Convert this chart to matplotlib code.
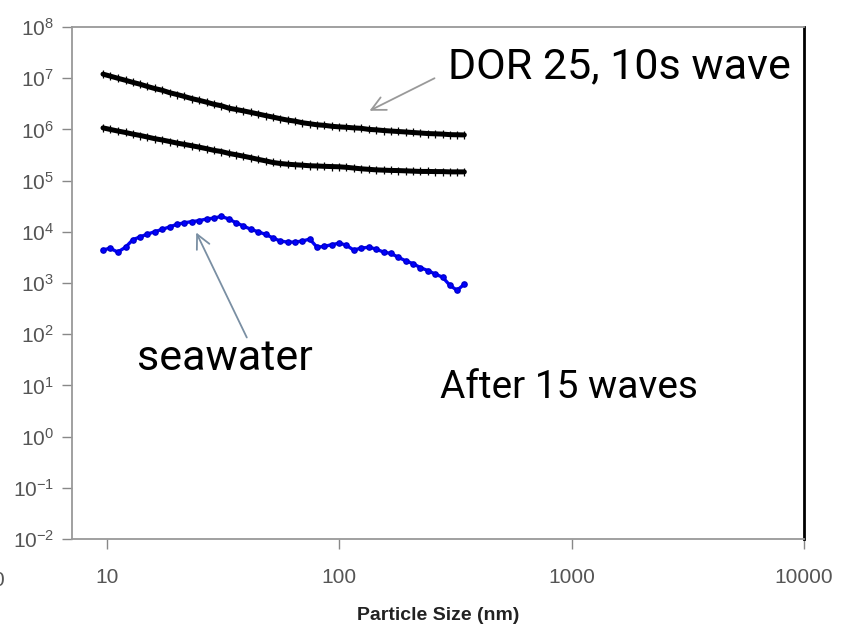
import matplotlib
matplotlib.use("Agg")
import matplotlib.pyplot as plt
from matplotlib.patches import FancyArrowPatch
from matplotlib.ticker import NullLocator, FixedLocator, FixedFormatter

# ---- data ----
size_nm = [9.6, 10.3, 11.1, 12.0, 12.9, 13.9, 14.9, 16.0, 17.3, 18.6,
           20.0, 21.5, 23.1, 24.9, 26.8, 28.8, 31.0, 33.4, 35.9, 38.6,
           41.5, 44.7, 48.1, 51.7, 55.6, 59.8, 64.4, 69.2, 74.5, 80.1,
           86.2, 92.7, 99.7, 107, 115, 124, 134, 144, 155, 166,
           179, 193, 207, 223, 240, 258, 278, 299, 321, 345]

dor_upper = [1.2e7, 1.10e7, 1.0e7, 9.1e6, 8.3e6, 7.6e6, 6.9e6, 6.3e6, 5.8e6, 5.2e6,
             4.8e6, 4.4e6, 4.0e6, 3.7e6, 3.4e6, 3.1e6, 2.9e6, 2.6e6, 2.45e6, 2.3e6,
             2.15e6, 2.0e6, 1.86e6, 1.74e6, 1.62e6, 1.52e6, 1.45e6, 1.35e6, 1.29e6, 1.23e6,
             1.2e6, 1.15e6, 1.12e6, 1.1e6, 1.07e6, 1.05e6, 1.0e6, 9.8e5, 9.5e5, 9.3e5,
             9.1e5, 8.9e5, 8.7e5, 8.5e5, 8.3e5, 8.2e5, 8.1e5, 7.9e5, 7.85e5, 7.8e5]

dor_lower = [1.07e6, 1.0e6, 9.3e5, 8.7e5, 8.1e5, 7.6e5, 7.1e5, 6.6e5, 6.2e5, 5.8e5,
             5.4e5, 5.1e5, 4.8e5, 4.5e5, 4.2e5, 3.9e5, 3.7e5, 3.4e5, 3.2e5, 3.0e5,
             2.8e5, 2.6e5, 2.43e5, 2.26e5, 2.16e5, 2.09e5, 2.04e5, 2.0e5, 1.95e5, 1.93e5,
             1.9e5, 1.88e5, 1.86e5, 1.82e5, 1.76e5, 1.7e5, 1.66e5, 1.62e5, 1.6e5, 1.58e5,
             1.57e5, 1.55e5, 1.53e5, 1.51e5, 1.51e5, 1.5e5, 1.5e5, 1.48e5, 1.48e5, 1.48e5]

seawater = [4400, 4800, 4000, 5000, 7000, 8000, 9000, 10000, 11200, 12500,
            14000, 15000, 15800, 16500, 17800, 18500, 20000, 17800, 15000, 13000,
            11200, 10000, 8900, 7600, 6600, 6300, 6300, 6600, 7200, 5000,
            5200, 5600, 6000, 5500, 4400, 4800, 5000, 4600, 4000, 3800,
            3200, 2700, 2400, 2000, 1750, 1500, 1300, 900, 720, 950]

x_ticks = [10, 100, 1000, 10000]
x_tick_labels = ["10", "100", "1000", "10000"]
y_exponents = list(range(-2, 9))

# ---- figure ----
W, H = 856, 634
fig = plt.figure(figsize=(W / 100, H / 100), dpi=100)
ax = fig.add_axes([72 / W, 1 - 539 / H, (804 - 72) / W, (539 - 27) / H])

ax.set_xscale("log")
ax.set_yscale("log")
ax.set_xlim(7.06, 10000)
ax.set_ylim(1e-2, 1e8)

# black DOR curves: thick line with dense fine hash marks
for ys in (dor_upper, dor_lower):
    ax.plot(size_nm, ys, color="black", lw=3.6, solid_capstyle="round")
    ax.plot(size_nm, ys, ls="none", marker="|", ms=6, mew=0.9, color="black")

# blue seawater curve
ax.plot(size_nm, seawater, color="#0000ff", lw=2.4, marker="o", ms=3.8,
        mec="#0000cc", mfc="#0000ff")

# ticks
tick_color = "#555555"
ax.xaxis.set_major_locator(FixedLocator(x_ticks))
ax.xaxis.set_major_formatter(FixedFormatter(x_tick_labels))
ax.xaxis.set_minor_locator(NullLocator())
ax.yaxis.set_major_locator(FixedLocator([10.0 ** e for e in y_exponents]))
ax.yaxis.set_major_formatter(FixedFormatter([r"$\mathregular{10^{%d}}$" % e for e in y_exponents]))
ax.yaxis.set_minor_locator(NullLocator())
ax.tick_params(axis="both", colors="#888888", labelcolor=tick_color,
               labelsize=15, length=7, width=1, direction="out")
ax.tick_params(axis="x", pad=14)
ax.tick_params(axis="y", pad=6)

for lab in ax.get_xticklabels() + ax.get_yticklabels():
    lab.set_family("Liberation Sans")

# spines
for s in ("left", "bottom", "top"):
    ax.spines[s].set_color("#999999")
    ax.spines[s].set_linewidth(1.3)
ax.spines["right"].set_color("black")
ax.spines["right"].set_linewidth(2)

ax.set_xlabel("Particle Size (nm)", fontsize=14, fontweight="bold",
              family="Liberation Sans", color="#222222", labelpad=14)

# annotations
ann_font = "Roboto"
fig.text(448 / W, 1 - 78 / H, "DOR 25, 10s wave", fontsize=31, family=ann_font,
         ha="left", va="baseline", color="black")
fig.text(440 / W, 1 - 398 / H, "After 15 waves", fontsize=28, family=ann_font,
         ha="left", va="baseline", color="black")
fig.text(137 / W, 1 - 370 / H, "seawater", fontsize=31, family=ann_font,
         ha="left", va="baseline", color="black")

# arrows (figure pixel coordinates, y from bottom)
fig.add_artist(FancyArrowPatch(
    (437, H - 77), (367, H - 112), transform=None,
    arrowstyle="->,head_length=10,head_width=5", color="#999999", lw=1.3))
fig.add_artist(FancyArrowPatch(
    (248, H - 340), (195, H - 230), transform=None,
    arrowstyle="->,head_length=10,head_width=5", color="#7a8fa3", lw=1.3))

# cut-off label at far left (partially visible in the reference)
fig.text(4 / W, 1 - 580 / H, "0", fontsize=15, color=tick_color, ha="right",
         va="center", family="Liberation Sans")

fig.savefig("out.png", dpi=100)
